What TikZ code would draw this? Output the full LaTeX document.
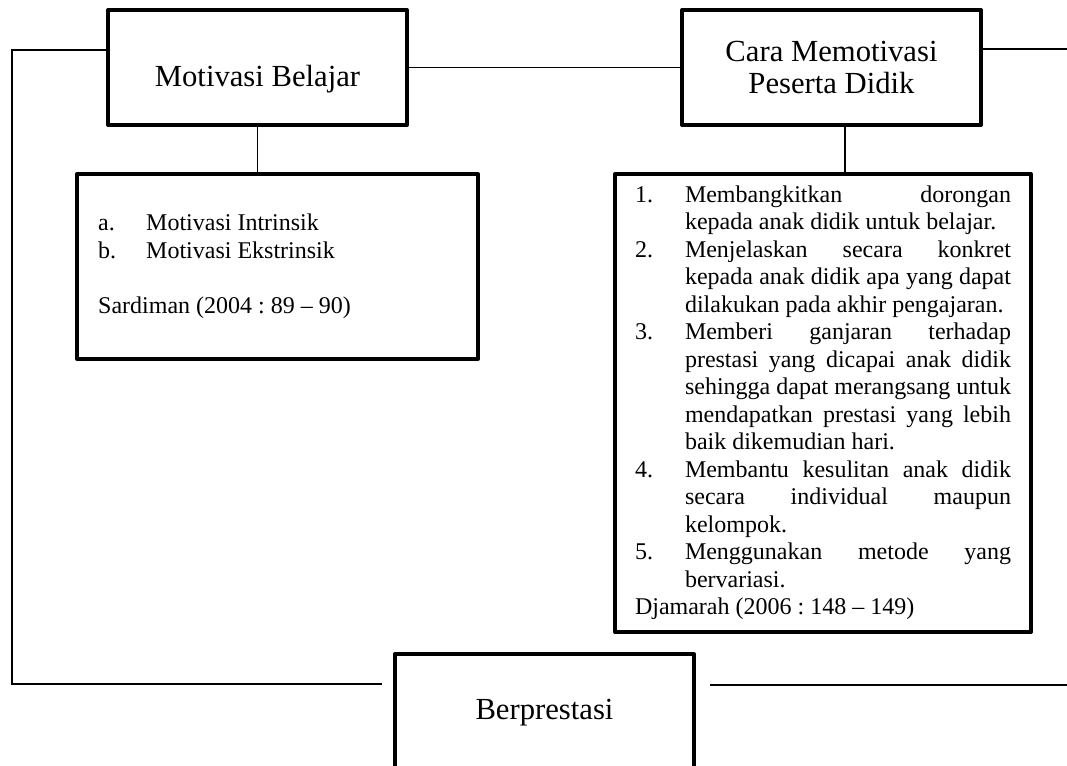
\documentclass[tikz,border=0pt]{standalone}
\usepackage{fontspec}
\setmainfont{LiberationSerif}[Extension=.ttf, UprightFont=*-Regular, BoldFont=*-Bold]
\frenchspacing
\newcommand{\jl}[1]{\makebox[244.5pt][s]{#1}}

\begin{document}
\begin{tikzpicture}[x=0.75pt, y=-0.75pt,
  box/.style={draw, line width=3pt, line join=round, inner sep=0pt,
    minimum width=224.25pt, minimum height=86.25pt,
    font=\rmfamily\fontsize{23pt}{23.5pt}\selectfont},
  listbox/.style={draw, line width=3pt, line join=round, inner sep=0pt,
    font=\rmfamily\fontsize{18pt}{20.6pt}\selectfont},
  conn/.style={line width=1.3pt}]
\useasboundingbox (0,0) rectangle (1067,766);
\clip (0,0) rectangle (1067,766);
% boxes
\node[box, text height=28pt, text depth=0pt] (mb) at (257.5,67.5) {Motivasi Belajar};
\node[box, align=center] (cmp) at (831.5,67.5) {Cara Memotivasi\\Peserta Didik};
\node[box, minimum height=87.75pt] (bp) at (544.5,712.5) {Berprestasi};
\node[listbox, minimum width=300.75pt, minimum height=138.75pt] (lb) at (277.5,266.5) {%
\begin{tabular}{@{}p{36pt}@{}p{233pt}@{}}
a. & Motivasi Intrinsik\\
b. & Motivasi Ekstrinsik\\
   & \\
\multicolumn{2}{@{}l@{}}{Sardiman (2004 : 89 -- 90)}
\end{tabular}};
\node[listbox, minimum width=312pt, minimum height=343.5pt] (rb) at (823,403) {%
\begin{tabular}{@{}p{37.5pt}@{}l@{}}
1. & \jl{Membangkitkan dorongan}\\
   & kepada anak didik untuk belajar.\\
2. & \jl{Menjelaskan secara konkret}\\
   & \jl{kepada anak didik apa yang dapat}\\
   & dilakukan pada akhir pengajaran.\\
3. & \jl{Memberi ganjaran terhadap}\\
   & \jl{prestasi yang dicapai anak didik}\\
   & \jl{sehingga dapat merangsang untuk}\\
   & \jl{mendapatkan prestasi yang lebih}\\
   & baik dikemudian hari.\\
4. & \jl{Membantu kesulitan anak didik}\\
   & \jl{secara individual maupun}\\
   & kelompok.\\
5. & \jl{Menggunakan metode yang}\\
   & bervariasi.\\
\multicolumn{2}{@{}l@{}}{Djamarah (2006 : 148 -- 149)}
\end{tabular}};
% free ends
\coordinate (ltop) at (12,50);
\coordinate (lbot) at (12,684);
\coordinate (lend) at (382,684);
\coordinate (rtop) at (1067,49);
\coordinate (cdrop) at (845,0);
\coordinate (rbeg) at (710,685);
\coordinate (rend) at (1067,685);
% connectors
\draw[conn] (mb.west |- ltop) -- (ltop) -- (lbot) -- (lend);
\draw[conn] (mb.east) -- (cmp.west);
\draw[conn] (cmp.east |- rtop) -- (rtop);
\draw[conn] (mb.south) -- (mb.south |- lb.north);
\draw[conn] (cdrop |- cmp.south) -- (cdrop |- rb.north);
\draw[conn] (rbeg) -- (rend);
\end{tikzpicture}
\end{document}
